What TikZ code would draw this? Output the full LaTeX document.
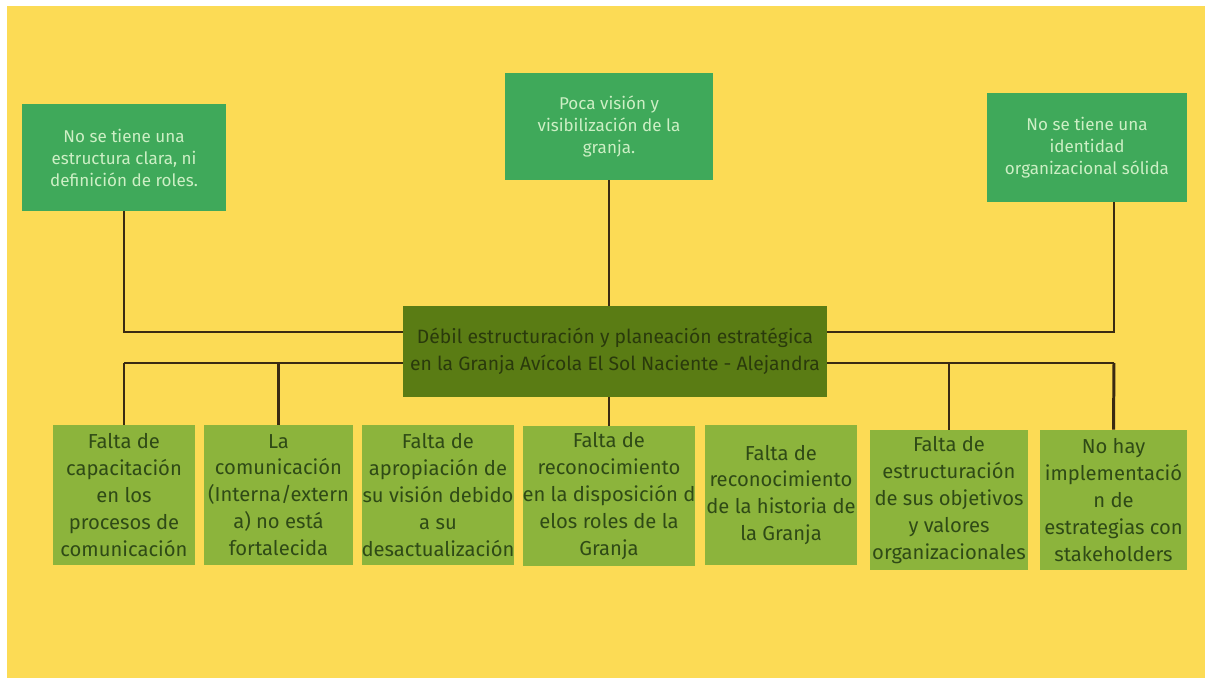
\documentclass[tikz,border=0pt]{standalone}
\usepackage{fontspec}
\setmainfont{Fira Sans}
\usetikzlibrary{backgrounds}
\definecolor{fondo}{HTML}{FCDB55}
\definecolor{verdecausa}{HTML}{3FA95A}
\definecolor{textocausa}{HTML}{CDEFC5}
\definecolor{oliva}{HTML}{5A7C14}
\definecolor{textooliva}{HTML}{2A3A0C}
\definecolor{verdeefecto}{HTML}{8CB43C}
\definecolor{textoefecto}{HTML}{2F4A16}
\definecolor{linea}{HTML}{3A2A12}

\begin{document}
\begin{tikzpicture}[x=0.02cm,y=-0.02cm,
    causa/.style={fill=verdecausa, text=textocausa, align=center, inner sep=0pt,
                  font=\fontsize{9.7}{12.5}\selectfont},
    problema/.style={fill=oliva, text=textooliva, align=center, inner sep=0pt,
                  font=\fontsize{11}{15.3}\selectfont},
    efecto/.style={fill=verdeefecto, text=textoefecto, align=center, inner sep=0pt,
                  minimum height=2.8cm, font=\fontsize{11.5}{15.3}\selectfont},
    link/.style={draw=linea, line width=1.7pt}]

    % Page
    \useasboundingbox (0,0) rectangle (1205,678);
    \begin{scope}[on background layer]
        \fill[white] (0,0) rectangle (1205,678);
        \fill[fondo] (7,6) rectangle (1205,678);
    \end{scope}

    % Top boxes
    \node[causa, minimum width=4.08cm, minimum height=2.14cm] (causaIzq) at (124,157.5)
        {No se tiene una\\estructura clara, ni\\definición de roles.};
    \node[causa, minimum width=4.16cm, minimum height=2.14cm] (causaCentro) at (609,126.5)
        {Poca visión y\\visibilización de la\\granja.};
    \node[causa, minimum width=4cm, minimum height=2.18cm] (causaDer) at (1087,147.5)
        {No se tiene una\\identidad\\organizacional sólida};

    % Central problem
    \node[problema, minimum width=8.48cm, minimum height=1.82cm] (problema) at (615,351.5)
        {Débil estructuración y planeación estratégica\\en la Granja Avícola El Sol Naciente - Alejandra};

    % Bottom boxes
    \node[efecto, minimum width=2.84cm] (efecto1) at (124,495)
        {Falta de\\capacitación\\en los\\procesos de\\comunicación};
    \node[efecto, minimum width=2.98cm] (efecto2) at (278.5,495)
        {La\\comunicación\\(Interna/extern\\a) no está\\fortalecida};
    \node[efecto, minimum width=3.04cm] (efecto3) at (438,495)
        {Falta de\\apropiación de\\su visión debido\\a su\\desactualización};
    \node[efecto, minimum width=3.44cm] (efecto4) at (609,496)
        {Falta de\\reconocimiento\\en la disposición d\\elos roles de la\\Granja};
    \node[efecto, minimum width=3.04cm] (efecto5) at (781,495)
        {Falta de\\reconocimiento\\de la historia de\\la Granja};
    \node[efecto, minimum width=3.16cm] (efecto6) at (949,500)
        {Falta de\\estructuración\\de sus objetivos\\y valores\\organizacionales};
    \node[efecto, minimum width=2.94cm] (efecto7) at (1113.5,500)
        {No hay\\implementació\\n de\\estrategias con\\stakeholders};

    \coordinate (barraIzq) at (124,363);
    \coordinate (barraDer) at (1114,363);

    % Connectors
    \begin{scope}[on background layer]
        \draw[link] (causaIzq.south) |- (problema.west |- 0,332);
        \draw[link] (barraDer |- causaDer.south) |- (problema.east |- 0,332);
        \draw[link] (causaCentro.south) -- (causaCentro.south |- problema.north);
        \draw[link] (barraIzq) -- (barraDer);
        \draw[link] (barraIzq) -- (efecto1.north);
        \draw[link] (efecto2.north |- barraIzq) -- (efecto2.north);
        \draw[link] (efecto4.north |- problema.south) -- (efecto4.north);
        \draw[link] (efecto6.north |- barraIzq) -- (efecto6.north);
        \draw[link] (barraDer) -- (efecto7.north);
    \end{scope}
\end{tikzpicture}
\end{document}
